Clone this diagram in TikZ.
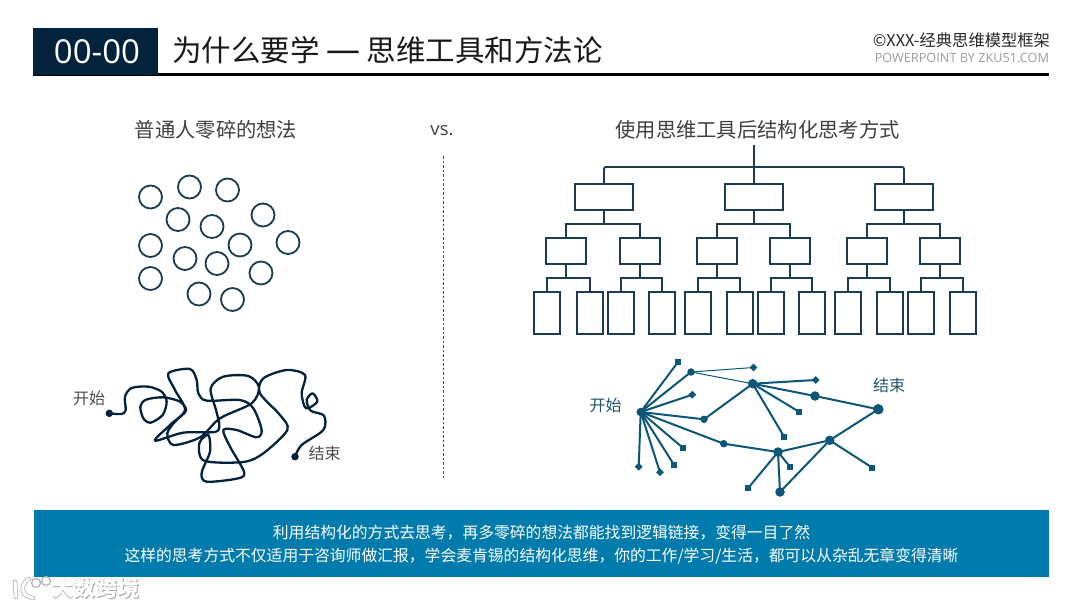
\documentclass[tikz,border=0pt]{standalone}
\usepackage{fontspec}
\setmainfont{Noto Sans CJK SC}
\newfontfamily\latinf{Open Sans}
\usetikzlibrary{shapes.geometric,calc}
\definecolor{navy}{HTML}{03233C}
\definecolor{line}{HTML}{1B3B50}
\definecolor{teal}{HTML}{0C5778}
\definecolor{banner}{HTML}{007BAC}
\newcommand{\fs}[1]{\fontsize{#1}{#1}\selectfont}
\tikzset{
  txt/.style={inner sep=0,outer sep=0,text=#1},
  treebox/.style={draw=line,line width=1.9pt,inner sep=0,outer sep=0,fill=white},
  blob/.style={draw=line,line width=1.8pt,circle,inner sep=0,minimum size=23pt},
  conn/.style={draw=line,line width=1.9pt},
  dotS/.style={circle,fill=teal,inner sep=0,minimum size=7.5pt},
  dotL/.style={circle,fill=teal,inner sep=0,minimum size=9.5pt},
  sq/.style={rectangle,fill=teal,inner sep=0,minimum size=6pt},
  dia/.style={diamond,fill=teal,inner sep=0,minimum size=8pt},
  edge/.style={draw=teal,line width=2pt},
  thinedge/.style={draw=teal,line width=1pt},
}
\begin{document}
\begin{tikzpicture}[x=1pt,y=-1pt]
\useasboundingbox (0,0) rectangle (1080,608);
\fill[white] (0,0) rectangle (1080,608);
% header
\fill[black] (33,73) rectangle (1049,75.5);
\node[fill=navy,minimum width=125pt,minimum height=47pt,inner sep=0,outer sep=0] (hdr) at (95.5,51.5) {};
\node[txt=white,font=\latinf\fs{33}] (num) at (97,52) {00-00};
\node[txt=black!90,anchor=west,font=\fs{29.5}] (title) at (172,50) {为什么要学 {\latinf\fs{34}—} 思维工具和方法论};
\node[txt=black!85,anchor=east,font=\fs{16.3}] (copy) at (1050,40) {©XXX-经典思维模型框架};
\node[txt=black!38,anchor=east,font=\latinf\fs{12.7}] (ppt) at (1049,58) {POWERPOINT BY ZKU51.COM};
% headings
\node[txt=black!75,font=\fs{20.3}] (h1) at (216,130) {普通人零碎的想法};
\node[txt=black!75,font=\latinf\fs{18.5}] (vs) at (442,131) {vs.};
\node[txt=black!75,font=\fs{20.3}] (h2) at (757.5,130) {使用思维工具后结构化思考方式};
\coordinate (da) at (443,156); \coordinate (db) at (443,478);
\draw[black!70,line width=.7pt,dash pattern=on 2.5pt off 2pt] (da) -- (db);
% blobs
\foreach \i/\x/\y in {1/150.5/197,2/189.5/187,3/227.5/190,4/178/219.5,5/212/226.5,6/263/215,7/150.5/245.5,8/240/245,9/288/242.5,10/185/258.5,11/217/263.5,12/150.5/278.5,13/261/273,14/199/294,15/232.5/299.5}
  \node[blob] (b\i) at (\x,\y) {};
% tree
\coordinate (root) at (754,145);
\foreach \n/\x in {A/604,B/754,C/904}
  \node[treebox,minimum width=58pt,minimum height=26pt] (\n) at (\x,197) {};
\foreach \n/\x in {A1/566,A2/640,B1/717,B2/790,C1/867,C2/940}
  \node[treebox,minimum width=40pt,minimum height=26pt] (\n) at (\x,251) {};
\foreach \n/\x in {A1a/547,A1b/590,A2a/621,A2b/662,B1a/698,B1b/740,B2a/771,B2b/812,C1a/848,C1b/890,C2a/921,C2b/963}
  \node[treebox,minimum width=26pt,minimum height=42pt] (\n) at (\x,313) {};
\draw[conn] (root) -- (B.north);
\draw[conn,rounded corners=2pt] (A.north) |- (C.north |- 0,167) -- (C.north);
\foreach \p/\a/\b in {A/A1/A2,B/B1/B2,C/C1/C2}{
  \draw[conn] (\p.south) -- (\p.south |- 0,224);
  \draw[conn] (\a.north) |- (\b.north |- 0,224) -- (\b.north);
}
\foreach \p in {A1,A2,B1,B2,C1,C2}{
  \draw[conn] (\p.south) -- (\p.south |- 0,278);
  \draw[conn] (\p a.north) |- (\p b.north |- 0,278) -- (\p b.north);
}
% tangled path
\node[circle,fill=navy,inner sep=0,minimum size=7.5pt] (ts) at (109.3,413.3) {};
\node[circle,fill=navy,inner sep=0,minimum size=7.5pt] (te) at (295,456.7) {};
\begin{scope}[x=.33333pt,y=-.33333pt,shift={(180,1050)}]
\draw[navy,line width=2.3pt,line cap=round,line join=round] plot[smooth,tension=.5] coordinates {
(148,190)(185,192)(197,180)(195,140)(215,114)(265,110)(305,125)(320,155)(308,195)(272,218)(250,205)(241,170)(258,149)(310,142)(360,155)(378,182)(345,215)(322,250)(340,285)(420,262)(480,205)(575,160)(597,112)(565,78)(490,80)(452,115)(468,180)(478,225)(465,246)(370,248)(285,272)(330,225)(375,180)(345,120)(325,70)(390,57)(410,90)(415,130)(440,152)(540,150)(580,175)(605,240)(590,262)(530,240)(490,240)(510,290)(552,365)(535,385)(440,395)(425,368)(450,305)(445,255)(418,280)(432,332)(550,336)(610,310)(682,240)(660,195)(600,130)(610,85)(680,60)(735,75)(725,130)(738,175)(772,155)(758,130)(740,150)(752,182)(792,197)(790,240)(725,285)(705,320)};
\end{scope}
\node[txt=black!70,font=\fs{16}] (tl1) at (89,398) {开始};
\node[txt=black!70,font=\fs{16}] (tl2) at (324.5,453.5) {结束};
% network
\node[dotL,minimum size=8.5pt] (s) at (640.7,412) {};
\node[sq] (a) at (678,362) {};
\node[dotS] (b) at (691,372) {};
\node[dia] (c) at (753.5,367.5) {};
\node[dotL] (d) at (752.7,383.7) {};
\node[dia] (e) at (815.7,380) {};
\node[dotL] (f) at (815,396) {};
\node[dotL,minimum size=10.5pt] (g) at (878.3,409.3) {};
\node[dia] (h) at (692.3,394.7) {};
\node[dotS] (i) at (704,419.3) {};
\node[sq] (j) at (799,411.7) {};
\node[sq] (k) at (784.3,437) {};
\node[dotS] (l) at (723.7,443.7) {};
\node[dotL] (m) at (778,452) {};
\node[dotL] (n) at (829.7,440.3) {};
\node[sq] (o) at (790,466.7) {};
\node[sq] (p) at (872.3,467.7) {};
\node[sq] (q) at (748,488.3) {};
\node[dotL] (r) at (780,492) {};
\node[sq] (t1) at (682.7,447.7) {};
\node[sq] (t2) at (674.3,465.3) {};
\node[dia] (u) at (660,472.3) {};
\node[dia] (v) at (638.7,466.7) {};
\foreach \t in {a,b,h,i,t1,t2,u,v,l} \draw[edge] (s.center) -- (\t.center);
\draw[thinedge] (b.center) -- (c.center);
\draw[thinedge] (b.center) -- (d.center);
\foreach \u/\w in {i/d,d/e,d/f,d/j,d/k,f/g,l/m,m/n,m/o,m/q,m/r,r/n,n/g,n/p}
  \draw[edge] (\u.center) -- (\w.center);
\node[txt=teal!75!black!90,font=\fs{16}] (nl1) at (605.5,405.5) {开始};
\node[txt=teal!75!black!90,font=\fs{16}] (nl2) at (889,385) {结束};
% banner
\node[fill=banner,minimum width=1015pt,minimum height=67pt,inner sep=0,outer sep=0] (ban) at (541.5,543.5) {};
\node[txt=white,font=\fs{15.8}] (l1) at (541.5,533) {利用结构化的方式去思考，再多零碎的想法都能找到逻辑链接，变得一目了然};
\node[txt=white,font=\fs{15.8}] (l2) at (541.5,556) {这样的思考方式不仅适用于咨询师做汇报，学会麦肯锡的结构化思维，你的工作/学习/生活，都可以从杂乱无章变得清晰};
% watermark
\node[txt=black!35,font=\bfseries\fs{22}] (wm0) at (96.7,589) {大数跨境};
\node[txt=white,font=\bfseries\fs{22}] (wm) at (96,588) {大数跨境};
\draw[black!30,line width=4.5pt,line cap=round] (15,582) -- (16,597) (29,579) .. controls (20,584) and (20,596) .. (33,598);
\draw[white,line width=3pt,line cap=round] (15,582) -- (16,597) (29,579) .. controls (20,584) and (20,596) .. (33,598);
\draw[black!30,line width=1.2pt,fill=white] (36,583) circle (4.5pt) (46,581) circle (4.5pt);
\end{tikzpicture}
\end{document}
